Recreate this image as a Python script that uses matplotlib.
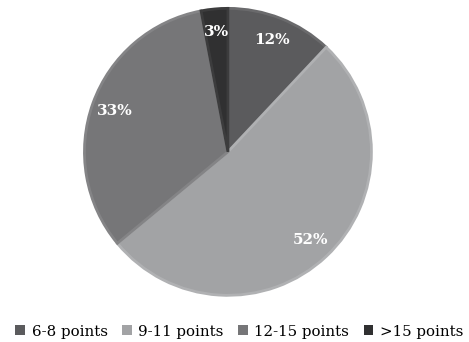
import matplotlib.pyplot as plt

labels = ["6-8 points", "9-11 points", "12-15 points", ">15 points"]
shares = [12, 52, 33, 3]
colors = ["#5b5b5d", "#a2a3a5", "#767678", "#303031"]
edges = ["#6a6a6c", "#b0b1b3", "#848486", "#3c3c3d"]

fig = plt.figure(figsize=(4.69, 3.42), dpi=100)
ax = fig.add_axes([0.177, 0.132, 0.618, 0.848])

wedges, texts, autotexts = ax.pie(
    shares, colors=colors, startangle=90, counterclock=False,
    autopct=lambda p: f"{p:.0f}%", pctdistance=0.84,
    wedgeprops=dict(linewidth=2),
    textprops=dict(color="white", fontsize=11, fontweight="bold", family="DejaVu Serif"),
)
for w, ec in zip(wedges, edges):
    w.set_edgecolor(ec)
ax.set_xlim(-1.01, 1.01)
ax.set_ylim(-1.01, 1.01)
ax.set_aspect("equal")

handles = [plt.Rectangle((0, 0), 1, 1, facecolor=c, edgecolor="none") for c in colors]
fig.legend(handles, labels, loc="lower center", bbox_to_anchor=(0.51, -0.03), ncol=4,
           frameon=False, handlelength=0.65, handleheight=0.65, handletextpad=0.45,
           columnspacing=0.95, prop=dict(family="DejaVu Serif", size=10.8))

fig.savefig("out.png", dpi=100, facecolor="white")
